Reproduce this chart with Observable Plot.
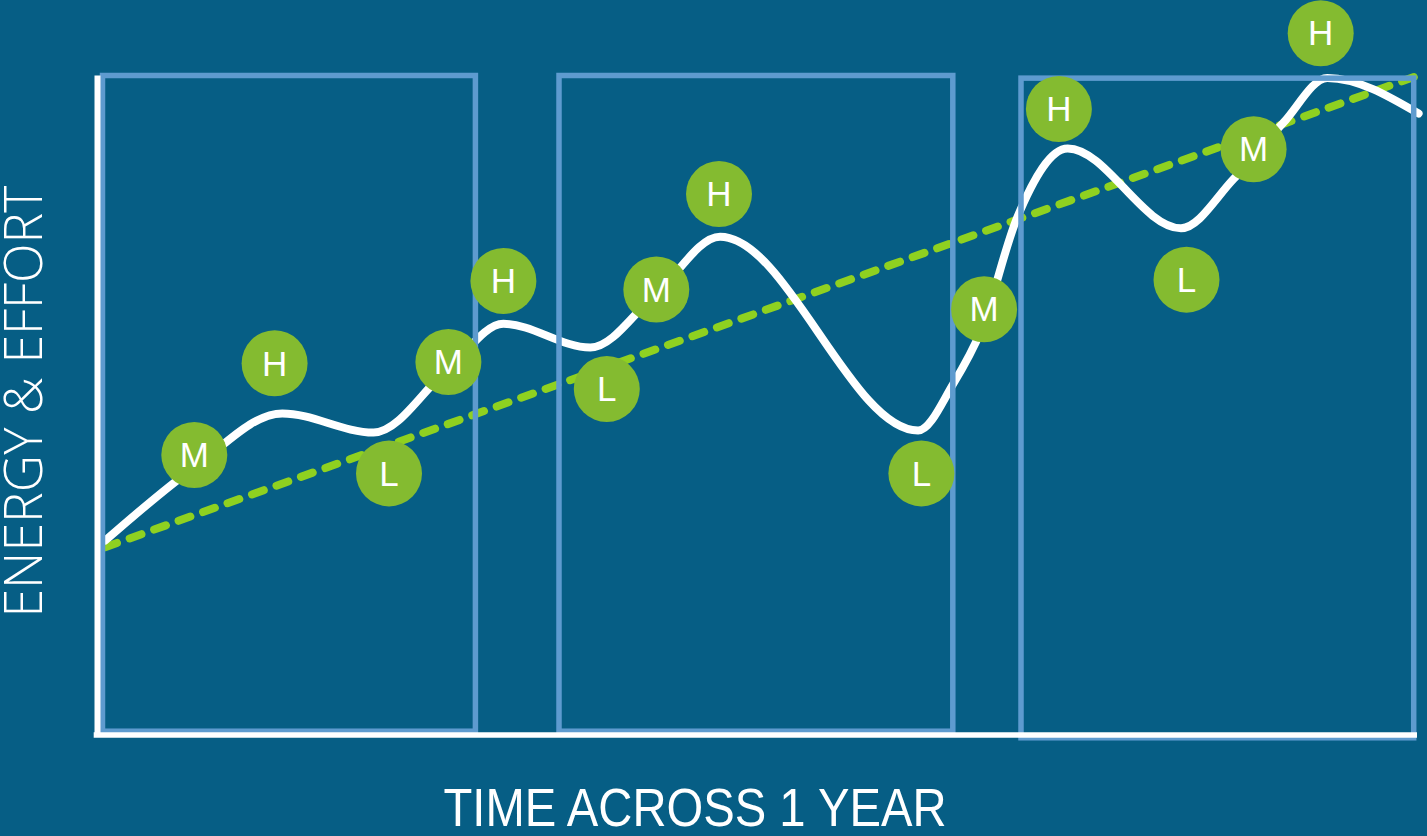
<!DOCTYPE html>
<html>
<head>
<meta charset="utf-8">
<script src="https://cdn.jsdelivr.net/npm/d3@7"></script>
<script src="https://cdn.jsdelivr.net/npm/@observablehq/plot@0.6"></script>
<style>
  html, body { margin: 0; padding: 0; background: #065e85; }
  #chart { width: 1427px; height: 836px; overflow: hidden; }
</style>
</head>
<body>
<div id="chart"></div>
<script>
// ---- Data (time in months across one year, energy & effort on a 0-100 scale) ----
const xLabel = "TIME ACROSS 1 YEAR";
const yLabel = "ENERGY & EFFORT";

// three highlighted periods
const periodStart  = [0.05, 4.20, 8.40];
const periodEnd    = [3.44, 7.78, 11.97];
const periodBottom = [0.5, 0.5, -0.5];
const periodTop    = [100, 100, 99.6];

// energy curve (peaks, troughs and a few in-between readings)
const energyX = [0.07, 0.88, 1.68, 2.51, 3.19, 3.69, 4.48, 5.08, 5.66, 7.46, 7.78, 8.03, 8.36, 8.82, 9.85, 10.33, 10.78, 11.18, 12.01];
const energyY = [29.5, 40.6, 48.8, 45.9, 55.6, 62.4, 58.8, 67.0, 75.6, 46.2, 53.3, 61.3, 78.5, 89.0, 76.9, 84.4, 92.9, 99.7, 94.3];

// overall trend (dashed)
const trendX = [0.07, 12.01];
const trendY = [28.5, 100.1];

// H / M / L markers
const levelLabels = ["M", "H", "L", "M", "H", "L", "M", "H", "L", "M", "H", "L", "M", "H"];
const levelX = [0.88, 1.61, 2.65, 3.19, 3.69, 4.63, 5.08, 5.65, 7.49, 8.06, 8.74, 9.90, 10.51, 11.12];
const levelY = [42.5, 56.4, 39.7, 56.6, 68.9, 52.5, 67.6, 82.1, 39.7, 64.6, 95.0, 69.1, 88.9, 106.5];

// ---- Tables built from the arrays ----
const periods = periodStart.map((s, i) => ({x1: s, x2: periodEnd[i], y1: periodBottom[i], y2: periodTop[i]}));
const energy = energyX.map((x, i) => ({x, y: energyY[i]}));
const trend = trendX.map((x, i) => ({x, y: trendY[i]}));
const levels = levelLabels.map((t, i) => ({t, x: levelX[i], y: levelY[i]}));

const chart = Plot.plot({
  width: 1427,
  height: 836,
  margin: 0,
  x: {domain: [0, 12], range: [97, 1417], axis: null},
  y: {domain: [0, 100], range: [734.5, 75.5], axis: null},
  style: {background: "#065e85", overflow: "visible"},
  marks: [
    Plot.line(trend, {x: "x", y: "y", stroke: "#8fd120", strokeWidth: 8, strokeDasharray: "12.5 13.5", strokeLinecap: "round"}),
    Plot.line(energy, {x: "x", y: "y", curve: "monotone-x", stroke: "white", strokeWidth: 8}),
    Plot.rect(periods, {x1: "x1", x2: "x2", y1: "y1", y2: "y2", fill: "none", stroke: "#5e9bcf", strokeWidth: 5.5}),
    Plot.ruleX([0], {y1: 0, y2: 100, stroke: "white", strokeWidth: 6}),
    Plot.ruleY([0], {x1: -0.03, x2: 12.0, stroke: "white", strokeWidth: 5.5}),
    Plot.dot(levels, {x: "x", y: "y", r: 33, fill: "#84bb30", stroke: "none"}),
    Plot.text(levels, {x: "x", y: "y", text: "t", fill: "white", fontSize: 35, fontFamily: "Liberation Sans, Arial, sans-serif", dy: 1}),
    Plot.text([xLabel], {frameAnchor: "bottom", textAnchor: "middle", lineAnchor: "middle", dy: -27, dx: -19, fill: "white", fontSize: 53,
      fontFamily: "Liberation Sans Narrow, Arial Narrow, Liberation Sans, sans-serif"}),
    Plot.text([yLabel], {frameAnchor: "left", textAnchor: "middle", lineAnchor: "middle", dx: 25, dy: -17, rotate: -90, fill: "white", fontSize: 53,
      fontFamily: "Open Sans, sans-serif", fontWeight: 300})
  ]
});

document.getElementById("chart").appendChild(chart);

// fit the axis titles to the measured lengths
chart.querySelectorAll("text").forEach(t => {
  if (t.textContent === xLabel) { t.setAttribute("textLength", 503); t.setAttribute("lengthAdjust", "spacingAndGlyphs"); }
  if (t.textContent === yLabel) { t.setAttribute("textLength", 432); t.setAttribute("lengthAdjust", "spacingAndGlyphs"); }
});
</script>
</body>
</html>
